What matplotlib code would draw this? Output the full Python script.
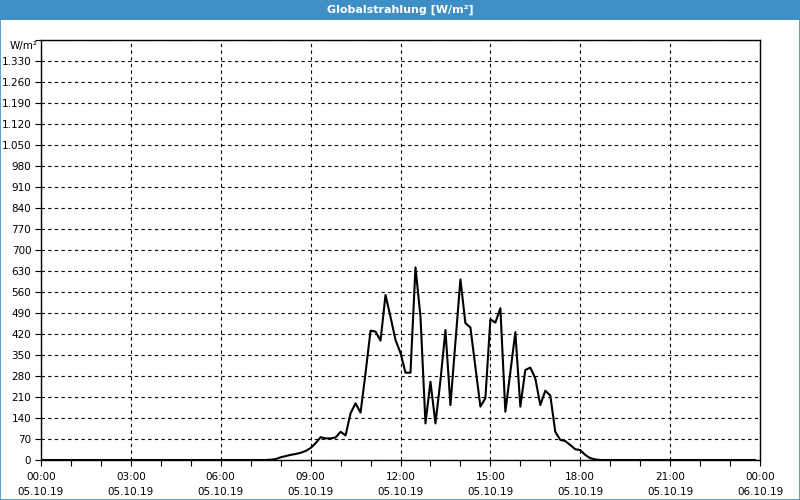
import matplotlib
matplotlib.use("Agg")
import matplotlib.pyplot as plt
import matplotlib.dates as mdates
from matplotlib.ticker import FuncFormatter, MultipleLocator
from matplotlib.patches import Rectangle
import pandas as pd

title = "Globalstrahlung [W/m²]"
unit_label = "W/m²"

times = ["00:00", "07:30", "07:40", "07:50", "08:00", "08:10", "08:20", "08:30", "08:40", "08:50",
         "09:00", "09:10", "09:20", "09:30", "09:40", "09:50", "10:00", "10:10", "10:20", "10:30",
         "10:40", "10:50", "11:00", "11:10", "11:20", "11:30", "11:40", "11:50", "12:00", "12:10",
         "12:20", "12:30", "12:40", "12:50", "13:00", "13:10", "13:20", "13:30", "13:40", "13:50",
         "14:00", "14:10", "14:20", "14:30", "14:40", "14:50", "15:00", "15:10", "15:20", "15:30",
         "15:40", "15:50", "16:00", "16:10", "16:20", "16:30", "16:40", "16:50", "17:00", "17:10",
         "17:20", "17:30", "17:40", "17:50", "18:00", "18:10", "18:20", "18:30", "18:40", "23:50"]
values = [0, 0, 1, 3, 9, 13, 17, 20, 24, 30,
          40, 56, 76, 72, 72, 75, 94, 82, 156, 189,
          158, 290, 431, 428, 398, 550, 477, 400, 357, 291,
          291, 642, 478, 122, 261, 122, 265, 433, 183, 393,
          602, 456, 442, 310, 178, 206, 469, 458, 506, 161,
          293, 426, 178, 300, 308, 272, 183, 231, 215, 94,
          67, 63, 50, 36, 33, 17, 6, 2, 0, 0]
day = "2019-10-05"
x_start = "2019-10-05 00:00"
x_end = "2019-10-06 00:00"
y_max = 1400
y_step = 70

t = pd.to_datetime([f"{day} {s}" for s in times])

fig = plt.figure(figsize=(8, 5), dpi=100)
fig.patch.set_facecolor("white")
blue = "#3d8fc6"
fig.patches.append(Rectangle((0, 0.96), 1, 0.04, transform=fig.transFigure,
                             facecolor=blue, edgecolor="none", zorder=0))
fig.patches.append(Rectangle((0.0006, 0.001), 0.9988, 0.998, transform=fig.transFigure,
                             facecolor="none", edgecolor=blue, linewidth=1.2, zorder=5))
fig.text(0.5, 0.98, title, color="white", fontsize=8, fontweight="bold",
         ha="center", va="center", family="DejaVu Sans")

ax = fig.add_axes([41/800, 40/500, 719/800, 420/500])
ax.plot(t, values, color="black", linewidth=1.5, zorder=3)
ax.set_xlim(pd.Timestamp(x_start), pd.Timestamp(x_end))
ax.set_ylim(0, y_max)

ax.yaxis.set_major_locator(MultipleLocator(y_step))
ax.yaxis.set_major_formatter(FuncFormatter(
    lambda v, p: "" if v >= y_max else f"{int(v):,}".replace(",", ".")))
ax.xaxis.set_major_locator(mdates.HourLocator(byhour=range(0, 24, 3)))
ax.xaxis.set_minor_locator(mdates.HourLocator())
ax.xaxis.set_major_formatter(mdates.DateFormatter("%H:%M\n%d.%m.%y"))

ax.grid(True, which="major", color="black", linestyle=(0, (3, 3)), linewidth=0.8)
ax.tick_params(axis="both", which="major", direction="out", length=4, width=0.8,
               labelsize=7.5, colors="black", pad=3)
ax.tick_params(axis="x", which="minor", direction="out", length=4, width=0.8)
ax.tick_params(axis="x", which="major", pad=5)
for lab in ax.get_xticklabels():
    lab.set_linespacing(1.6)
for s in ax.spines.values():
    s.set_color("black")
    s.set_linewidth(1)

fig.text(10/800, 1 - 46/500, unit_label, ha="left", va="center", fontsize=7.5)

fig.savefig("out.png", dpi=100, facecolor="white")
